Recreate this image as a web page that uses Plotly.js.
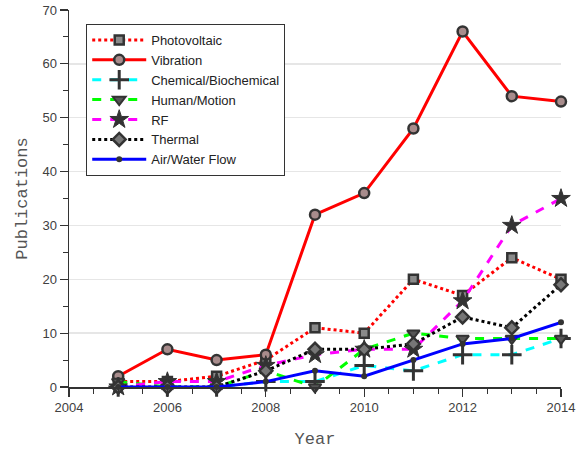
<!DOCTYPE html>
<html>
<head>
<meta charset="utf-8">
<script src="https://cdn.plot.ly/plotly-3.0.1.min.js"></script>
<style>html,body{margin:0;padding:0;background:#fff;}#chart{width:577px;height:449px;}</style>
</head>
<body>
<div id="chart"></div>
<script>
const years = [2005, 2006, 2007, 2008, 2009, 2010, 2011, 2012, 2013, 2014];
const photovoltaic = [1, 1, 2, 5, 11, 10, 20, 17, 24, 20];
const vibration = [2, 7, 5, 6, 32, 36, 48, 66, 54, 53];
const chemical = [0, 0, 0, 1, 1, 4, 3, 6, 6, 9];
const human = [1, 0, 0, 3, 0, 7, 10, 9, 9, 9];
const rf = [0, 1, 1, 4, 6, 7, 7, 16, 30, 35];
const thermal = [0, 0, 0, 3, 7, 7, 8, 13, 11, 19];
const airwater = [0, 0, 0, 1, 3, 2, 5, 8, 9, 12];

const mk = '#333333';
function tr(name, y, color, dash, symbol, size, fill, lw) {
  return {
    x: years, y: y, name: name, type: 'scatter', mode: 'lines+markers',
    cliponaxis: false,
    line: {color: color, width: 3, dash: dash},
    marker: {symbol: symbol, size: size, color: fill, line: {color: mk, width: lw}}
  };
}
const data = [
  tr('Photovoltaic', photovoltaic, '#ff0000', 'dot', 'square', 9, '#8a8a8a', 2.5),
  tr('Vibration', vibration, '#ff0000', 'solid', 'circle', 10, '#a88c8c', 2.5),
  tr('Chemical/Biochemical', chemical, '#00ffff', 'dash', 'cross-thin', 14, mk, 3),
  tr('Human/Motion', human, '#00ff00', 'dash', 'triangle-down', 11, '#555555', 2),
  tr('RF', rf, '#ff00ff', 'dash', 'star', 14, mk, 1),
  tr('Thermal', thermal, '#000000', 'dot', 'diamond', 10, '#777777', 2.5),
  tr('Air/Water Flow', airwater, '#0000ff', 'solid', 'circle', 6, mk, 0)
];

const layout = {
  width: 577, height: 449,
  margin: {l: 69, r: 16, t: 10, b: 62},
  paper_bgcolor: '#ffffff', plot_bgcolor: '#ffffff',
  font: {family: 'Liberation Sans, Arial, sans-serif', size: 13, color: '#404040'},
  showlegend: true,
  legend: {
    x: 0.035, y: 0.963, xanchor: 'left', yanchor: 'top',
    bgcolor: '#ffffff', bordercolor: '#333333', borderwidth: 1,
    font: {family: 'Liberation Sans, Arial, sans-serif', size: 13, color: '#222222'},
    itemwidth: 54, tracegroupgap: 0
  },
  xaxis: {
    range: [2004, 2014], dtick: 2, tick0: 2004,
    showgrid: false, zeroline: false,
    showline: true, linecolor: '#333333', linewidth: 1.5,
    ticks: 'outside', ticklen: 8, tickwidth: 1.2, tickcolor: '#333333',
    minor: {dtick: 0.5, ticks: 'outside', ticklen: 5, tickcolor: '#333333', tickwidth: 1, showgrid: false},
    tickfont: {size: 13, color: '#404040'},
    title: {text: 'Year', font: {family: 'Liberation Mono, Courier New, monospace', size: 17, color: '#555555'}, standoff: 18}
  },
  yaxis: {
    range: [0, 70], dtick: 10,
    showgrid: true, gridcolor: '#e6e6e6', gridwidth: 1.5, zeroline: false,
    showline: true, linecolor: '#333333', linewidth: 1.5,
    ticks: 'outside', ticklen: 8, tickwidth: 1.2, tickcolor: '#333333',
    minor: {dtick: 5, ticks: 'outside', ticklen: 5, tickcolor: '#333333', tickwidth: 1, showgrid: false},
    tickfont: {size: 13, color: '#404040'},
    title: {text: 'Publications', font: {family: 'Liberation Mono, Courier New, monospace', size: 17, color: '#555555'}, standoff: 10}
  }
};
Plotly.newPlot('chart', data, layout, {displayModeBar: false, staticPlot: true});
</script>
</body>
</html>
